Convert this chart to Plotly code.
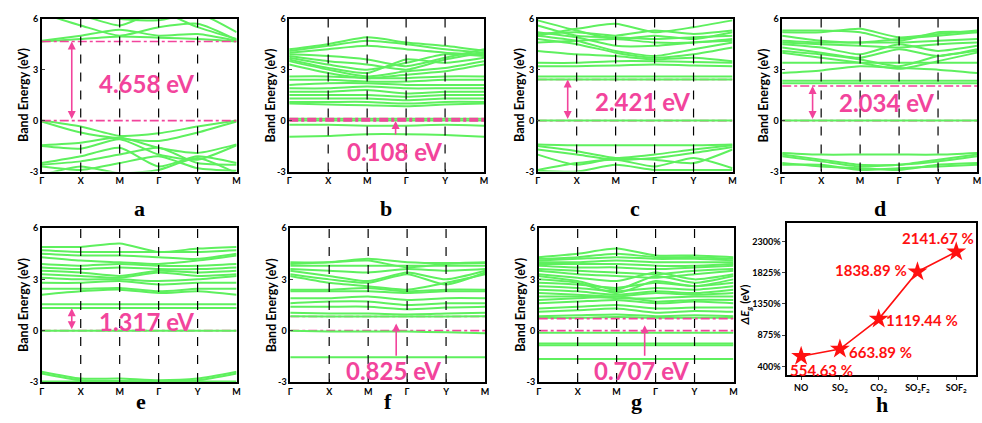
import plotly.graph_objects as go

W, H = 982, 423
GREEN = "#5ef05e"
PINK = "#f2449c"
FONT = "Lato"

k_labels = ["Γ", "X", "M", "Γ", "Y", "M"]
k_pos = [0, 1, 2, 3, 4, 5]

# ---- band energies (eV) at the high-symmetry points Γ X M Γ Y M ----
a_bands = [
    [4.66, 4.80, 4.95, 4.88, 4.80, 4.66],
    [4.70, 5.00, 5.35, 5.00, 5.10, 4.70],
    [6.30, 5.60, 5.00, 5.50, 5.70, 4.75],
    [6.50, 6.20, 5.60, 6.40, 5.50, 4.80],
    [7.00, 6.60, 6.00, 5.90, 6.30, 5.20],
    [0.00, -0.35, -0.90, -0.75, -0.35, 0.00],
    [-0.05, -0.70, -1.05, -1.20, -0.70, -0.05],
    [-1.45, -1.30, -1.00, -1.60, -1.90, -1.40],
    [-1.50, -1.65, -1.10, -2.00, -2.30, -1.45],
    [-2.50, -2.10, -1.60, -2.70, -2.10, -2.50],
    [-2.60, -2.40, -2.00, -1.60, -2.50, -2.60],
    [-2.70, -2.90, -2.50, -2.10, -2.80, -2.95],
    [-3.20, -2.70, -3.10, -2.90, -2.20, -3.10],
]
b_bands = [
    [4.20, 4.50, 4.90, 4.60, 4.40, 4.10],
    [4.10, 4.40, 4.70, 4.50, 4.20, 4.00],
    [4.00, 4.20, 4.40, 4.20, 4.00, 3.90],
    [3.90, 3.80, 3.60, 3.20, 3.70, 4.20],
    [3.80, 3.50, 3.30, 3.00, 3.60, 4.00],
    [3.70, 3.30, 3.00, 3.40, 3.90, 3.80],
    [3.60, 3.10, 2.80, 3.60, 3.40, 3.70],
    [3.50, 3.00, 2.60, 2.90, 3.10, 3.50],
    [3.30, 2.80, 2.50, 2.70, 2.90, 3.30],
    [2.60, 2.60, 2.50, 2.50, 2.60, 2.60],
    [2.40, 2.40, 2.30, 2.30, 2.40, 2.40],
    [2.10, 2.20, 2.20, 2.10, 2.10, 2.10],
    [1.90, 1.90, 2.00, 1.90, 1.90, 1.90],
    [1.70, 1.70, 1.80, 1.60, 1.70, 1.70],
    [1.50, 1.50, 1.50, 1.40, 1.50, 1.50],
    [1.30, 1.30, 1.30, 1.20, 1.30, 1.30],
    [1.10, 1.10, 1.10, 1.00, 1.10, 1.10],
    [1.00, 0.95, 0.90, 0.85, 0.95, 1.00],
    [0.11, 0.11, 0.11, 0.11, 0.11, 0.11],
    [0.00, 0.00, 0.00, 0.00, 0.00, 0.00],
    [-0.25, -0.25, -0.30, -0.30, -0.25, -0.30],
    [-0.95, -0.90, -0.80, -0.80, -0.85, -0.95],
]
c_bands = [
    [2.42, 2.42, 2.42, 2.42, 2.42, 2.42],
    [2.60, 2.60, 2.60, 2.60, 2.60, 2.60],
    [3.20, 3.20, 3.25, 3.30, 3.25, 3.20],
    [3.40, 3.40, 3.50, 3.50, 3.45, 3.40],
    [4.10, 3.90, 3.80, 3.60, 3.70, 3.50],
    [4.80, 4.50, 4.00, 3.70, 3.90, 4.30],
    [5.00, 4.70, 4.10, 3.80, 4.20, 4.60],
    [5.20, 4.90, 4.40, 4.40, 4.60, 4.70],
    [5.60, 5.00, 4.90, 4.80, 4.90, 5.00],
    [5.90, 5.30, 4.80, 5.00, 4.80, 5.20],
    [4.60, 4.70, 4.80, 4.60, 4.60, 4.80],
    [5.00, 5.40, 5.70, 5.20, 5.50, 5.90],
    [5.10, 5.20, 5.00, 5.30, 5.10, 5.30],
    [0.00, 0.00, 0.00, 0.00, 0.00, 0.00],
    [-1.40, -1.45, -1.45, -1.45, -1.45, -1.40],
    [-1.50, -1.80, -2.20, -2.00, -1.70, -1.45],
    [-1.70, -2.00, -2.30, -2.20, -1.90, -1.55],
    [-2.00, -2.60, -2.20, -2.30, -2.50, -1.70],
    [-2.90, -2.50, -2.30, -2.70, -2.20, -2.80],
    [-2.95, -3.00, -2.60, -2.90, -2.90, -2.90],
]
d_bands = [
    [2.20, 2.20, 2.20, 2.20, 2.20, 2.20],
    [2.35, 2.35, 2.35, 2.35, 2.35, 2.35],
    [2.80, 2.95, 3.20, 3.10, 3.00, 2.80],
    [3.40, 3.40, 3.40, 3.40, 3.40, 3.40],
    [4.00, 3.70, 3.40, 3.05, 3.50, 4.00],
    [4.10, 3.90, 3.60, 3.20, 3.80, 4.10],
    [4.30, 4.00, 3.70, 4.20, 3.80, 4.20],
    [4.50, 4.30, 3.90, 4.50, 4.10, 4.40],
    [4.60, 4.50, 4.40, 4.30, 4.50, 4.60],
    [4.70, 4.60, 4.60, 4.60, 4.70, 4.80],
    [5.00, 4.70, 4.60, 4.80, 5.00, 5.20],
    [5.20, 5.20, 5.40, 4.90, 5.10, 5.30],
    [5.30, 5.30, 5.20, 4.70, 5.20, 5.20],
    [0.00, 0.00, 0.00, 0.00, 0.00, 0.00],
    [-1.90, -2.00, -2.00, -2.00, -2.00, -1.90],
    [-2.00, -2.30, -2.60, -2.60, -2.30, -2.00],
    [-2.10, -2.40, -2.70, -2.60, -2.40, -2.10],
    [-2.60, -2.60, -2.90, -2.80, -2.70, -2.60],
    [-2.50, -2.70, -2.80, -2.90, -2.60, -2.50],
]
e_bands = [
    [1.32, 1.32, 1.32, 1.32, 1.32, 1.32],
    [1.55, 1.55, 1.55, 1.55, 1.55, 1.55],
    [2.10, 2.30, 2.40, 2.20, 2.30, 2.10],
    [2.45, 2.45, 2.50, 2.30, 2.45, 2.45],
    [2.80, 2.80, 2.90, 2.70, 2.80, 2.80],
    [3.10, 3.00, 3.00, 2.90, 3.00, 3.20],
    [3.30, 3.20, 3.10, 3.40, 3.20, 3.30],
    [3.50, 3.40, 3.20, 3.50, 3.40, 3.50],
    [3.70, 3.60, 3.70, 3.60, 3.60, 3.70],
    [3.90, 3.80, 3.90, 3.80, 3.80, 3.90],
    [4.30, 4.10, 4.00, 3.90, 4.10, 4.40],
    [4.50, 4.40, 4.40, 4.30, 4.20, 4.50],
    [4.70, 4.60, 4.60, 4.60, 4.60, 4.70],
    [4.90, 4.90, 5.10, 4.60, 4.80, 4.90],
    [0.00, 0.00, 0.00, 0.00, 0.00, 0.00],
    [-2.40, -2.80, -2.80, -2.90, -2.80, -2.40],
    [-2.50, -2.90, -2.95, -2.95, -2.90, -2.50],
    [-2.97, -2.97, -2.97, -2.97, -2.97, -2.97],
]
f_bands = [
    [0.85, 0.83, 0.83, 0.83, 0.83, 0.85],
    [1.05, 1.00, 1.00, 0.95, 1.00, 1.05],
    [1.40, 1.40, 1.40, 1.25, 1.35, 1.40],
    [1.60, 1.70, 1.70, 1.50, 1.60, 1.60],
    [1.90, 1.90, 2.00, 1.80, 1.90, 1.90],
    [2.30, 2.30, 2.30, 2.20, 2.30, 2.30],
    [2.40, 2.40, 2.50, 2.30, 2.40, 2.40],
    [3.20, 2.80, 2.60, 2.40, 2.80, 3.30],
    [3.30, 3.00, 2.80, 3.30, 2.70, 3.40],
    [3.50, 3.20, 2.90, 3.40, 3.00, 3.50],
    [3.60, 3.50, 3.40, 3.60, 3.50, 3.60],
    [3.80, 3.80, 3.80, 3.80, 3.80, 3.80],
    [4.00, 4.00, 4.20, 4.00, 3.95, 4.00],
    [3.90, 4.00, 4.10, 3.70, 3.90, 3.95],
    [0.00, -0.05, -0.05, -0.05, -0.10, -0.15],
    [-1.55, -1.55, -1.55, -1.55, -1.55, -1.55],
]
g_bands = [
    [0.75, 0.75, 0.80, 0.75, 0.75, 0.75],
    [0.85, 0.90, 0.95, 0.85, 0.90, 0.85],
    [1.10, 1.20, 1.30, 1.05, 1.15, 1.10],
    [1.30, 1.40, 1.50, 1.30, 1.35, 1.35],
    [1.60, 1.70, 1.80, 1.60, 1.70, 1.60],
    [1.80, 1.90, 2.00, 1.70, 1.80, 1.80],
    [2.00, 2.00, 1.90, 1.90, 2.00, 2.00],
    [2.20, 2.10, 2.00, 2.20, 2.10, 2.20],
    [2.40, 2.30, 2.10, 2.30, 2.20, 2.40],
    [2.60, 2.50, 2.30, 2.50, 2.40, 2.60],
    [2.80, 2.70, 2.50, 2.80, 2.60, 2.80],
    [3.00, 2.80, 2.20, 2.90, 2.60, 3.00],
    [3.20, 2.90, 2.40, 3.20, 2.80, 3.20],
    [3.30, 3.10, 2.90, 3.40, 3.00, 3.30],
    [3.50, 3.30, 3.20, 3.10, 3.30, 3.50],
    [3.60, 3.50, 3.40, 3.30, 3.50, 3.60],
    [3.80, 3.70, 3.70, 3.60, 3.70, 3.80],
    [3.90, 3.90, 3.90, 3.80, 3.80, 3.90],
    [4.00, 4.00, 4.10, 4.00, 4.00, 4.00],
    [4.10, 4.20, 4.30, 4.20, 4.20, 4.10],
    [4.20, 4.30, 4.50, 4.30, 4.30, 4.20],
    [4.30, 4.50, 4.80, 4.40, 4.40, 4.30],
    [-0.12, -0.12, -0.12, -0.12, -0.12, -0.12],
    [-0.75, -0.75, -0.75, -0.75, -0.75, -0.75],
    [-0.85, -0.85, -0.85, -0.85, -0.85, -0.85],
    [-1.65, -1.65, -1.65, -1.65, -1.65, -1.65],
]

gap_values = [4.658, 0.108, 2.421, 2.034, 1.317, 0.825, 0.707]
gap_labels = ["4.658 eV", "0.108 eV", "2.421 eV", "2.034 eV", "1.317 eV", "0.825 eV", "0.707 eV"]
panel_letters = ["a", "b", "c", "d", "e", "f", "g", "h"]

gases = ["NO", "SO<sub>2</sub>", "CO<sub>2</sub>", "SO<sub>2</sub>F<sub>2</sub>", "SOF<sub>2</sub>"]
delta_eg = [554.63, 663.89, 1119.44, 1838.89, 2141.67]
delta_labels = ["554.63 %", "663.89 %", "1119.44 %", "1838.89 %", "2141.67 %"]
h_ticks = [400, 875, 1350, 1825, 2300]
h_ticktext = ["400%", "875%", "1350%", "1825%", "2300%"]

# ---- layout geometry (pixels) ----
panels = [
    (40, 236, 13, 170),
    (289, 485, 13, 170),
    (539, 735, 13, 170),
    (785, 981, 13, 170),
    (40, 236, 228, 386),
    (290, 486, 228, 386),
    (540, 736, 228, 386),
]
h_box = (790, 980, 223, 379)
letter_pos = [(138, 208), (386, 208), (637, 208), (883, 208),
              (140, 406), (388, 406), (638, 406), (885, 409)]
# (arrow k, arrow tail E, arrow head E, double?, text k, text E, pink on top?)
gap_style = [
    (0.77, 0.0, 4.658, True, 2.68, 2.2, True),
    (2.73, -0.9, -0.03, False, 2.69, -1.84, True),
    (0.77, 0.0, 2.421, True, 2.69, 1.1, False),
    (0.78, 0.0, 2.034, True, 2.67, 1.07, False),
    (0.77, 0.0, 1.317, True, 2.69, 0.56, False),
    (2.72, -1.55, 0.42, False, 2.65, -2.35, False),
    (2.72, -1.55, 0.32, False, 2.64, -2.35, True),
]

all_bands = [a_bands, b_bands, c_bands, d_bands, e_bands, f_bands, g_bands]


def fx(px):
    return px / W


def fy(py):
    return 1 - py / H


fig = go.Figure()
annotations = []
shapes = []
layout = {}

for i, bands in enumerate(all_bands):
    n = i + 1
    xa = "x" if n == 1 else f"x{n}"
    ya = "y" if n == 1 else f"y{n}"
    x0, x1, y0, y1 = panels[i]
    ak, atail, ahead, dbl, tk, te, pink_top = gap_style[i]

    xs, ys = [], []
    for b in bands:
        xs += k_pos + [None]
        ys += b + [None]

    def pink_lines():
        for e in (0.0, gap_values[i]):
            fig.add_trace(go.Scatter(
                x=[0, 5], y=[e, e], mode="lines", xaxis=xa, yaxis=ya,
                line=dict(color=PINK, width=2.2 if i == 1 else 1.6, dash="dashdot"),
                showlegend=False, hoverinfo="skip"))

    if not pink_top:
        pink_lines()
    fig.add_trace(go.Scatter(
        x=xs, y=ys, mode="lines", xaxis=xa, yaxis=ya,
        line=dict(color=GREEN, width=2, shape="spline", smoothing=0.6),
        showlegend=False, hoverinfo="skip"))
    if pink_top:
        pink_lines()

    axis_font = dict(family=FONT, size=9, color="black", weight="bold")
    layout["xaxis" if n == 1 else f"xaxis{n}"] = dict(
        domain=[fx(x0), fx(x1)], anchor=ya, range=[0, 5],
        tickvals=k_pos, ticktext=k_labels, tickfont=axis_font,
        showline=True, linecolor="black", linewidth=1.5, mirror=True,
        ticks="inside", ticklen=3, showgrid=False, zeroline=False)
    layout["yaxis" if n == 1 else f"yaxis{n}"] = dict(
        domain=[fy(y1), fy(y0)], anchor=xa, range=[-3, 6],
        tickvals=[-3, 0, 3, 6], ticktext=["-3", "0", "3", "6"], tickfont=axis_font,
        showline=True, linecolor="black", linewidth=1.5, mirror=True,
        ticks="inside", ticklen=3, showgrid=False, zeroline=False)

    for kv in (1, 2, 3, 4):
        shapes.append(dict(type="line", xref=xa, yref=f"{ya} domain",
                           x0=kv, x1=kv, y0=0, y1=1,
                           line=dict(color="black", width=1.2, dash="dash"), layer="above"))

    annotations.append(dict(
        xref=xa, yref=ya, axref=xa, ayref=ya, x=ak, y=ahead, ax=ak, ay=atail,
        text="", showarrow=True, arrowhead=2, arrowsize=1, arrowwidth=1.6,
        arrowcolor=PINK, arrowside="end+start" if dbl else "end"))
    annotations.append(dict(
        xref=xa, yref=ya, x=tk, y=te, text=gap_labels[i], showarrow=False,
        xanchor="center", yanchor="middle",
        font=dict(family=FONT, size=24, color=PINK, weight="bold")))

    annotations.append(dict(
        xref="paper", yref="paper", x=fx(x0 - 19), y=fy((y0 + y1) / 2),
        xanchor="center", yanchor="middle",
        text="Band Energy (eV)", textangle=-90, showarrow=False,
        font=dict(family=FONT, size=12.5, color="black", weight="bold")))

# ---- panel h ----
hx0, hx1, hy0, hy1 = h_box
fig.add_trace(go.Scatter(
    x=list(range(len(gases))), y=delta_eg, mode="lines+markers",
    xaxis="x8", yaxis="y8",
    line=dict(color="#ff1010", width=1.6),
    marker=dict(symbol="star", size=15, color="#ff1010"),
    showlegend=False, hoverinfo="skip"))
hfont = dict(family=FONT, size=9, color="black", weight="bold")
layout["xaxis8"] = dict(
    domain=[fx(hx0), fx(hx1)], anchor="y8", range=[-0.36, 4.51],
    tickvals=list(range(len(gases))), ticktext=gases, tickfont=hfont,
    showline=True, linecolor="black", linewidth=1.5, mirror=True,
    ticks="outside", ticklen=3, showgrid=False, zeroline=False)
layout["yaxis8"] = dict(
    domain=[fy(hy1), fy(hy0)], anchor="x8", range=[267, 2576],
    tickvals=h_ticks, ticktext=h_ticktext, tickfont=hfont,
    showline=True, linecolor="black", linewidth=1.5, mirror=True,
    ticks="outside", ticklen=3, showgrid=False, zeroline=False)
annotations.append(dict(
    xref="paper", yref="paper", x=fx(748), y=fy(307),
    xanchor="center", yanchor="middle",
    text="<i>ΔE</i><sub><i>g</i></sub> (eV)", textangle=-90, showarrow=False,
    font=dict(family=FONT, size=11.5, color="black", weight="bold")))

h_label_pos = [(-0.34, 345, "left"), (1.18, 622, "left"), (2.13, 1110, "left"),
               (2.79, 1865, "right"), (4.50, 2354, "right")]
for (lx, ly, anc), lab in zip(h_label_pos, delta_labels):
    annotations.append(dict(
        xref="x8", yref="y8", x=lx, y=ly, text=lab, showarrow=False,
        xanchor=anc, yanchor="middle",
        font=dict(family=FONT, size=15, color="#ff1010", weight="bold")))

for letter, (lx, ly) in zip(panel_letters, letter_pos):
    annotations.append(dict(
        xref="paper", yref="paper", x=fx(lx), y=fy(ly), text=letter, showarrow=False,
        xanchor="center", yanchor="middle",
        font=dict(family="Liberation Serif", size=22, color="black", weight="bold")))

fig.update_layout(
    width=W, height=H, margin=dict(l=0, r=0, t=0, b=0),
    paper_bgcolor="white", plot_bgcolor="white",
    annotations=annotations, shapes=shapes, **layout)

fig.write_html("out.html", config={"displayModeBar": False},
               post_script="document.body.style.margin='0';document.body.style.overflow='hidden';")
